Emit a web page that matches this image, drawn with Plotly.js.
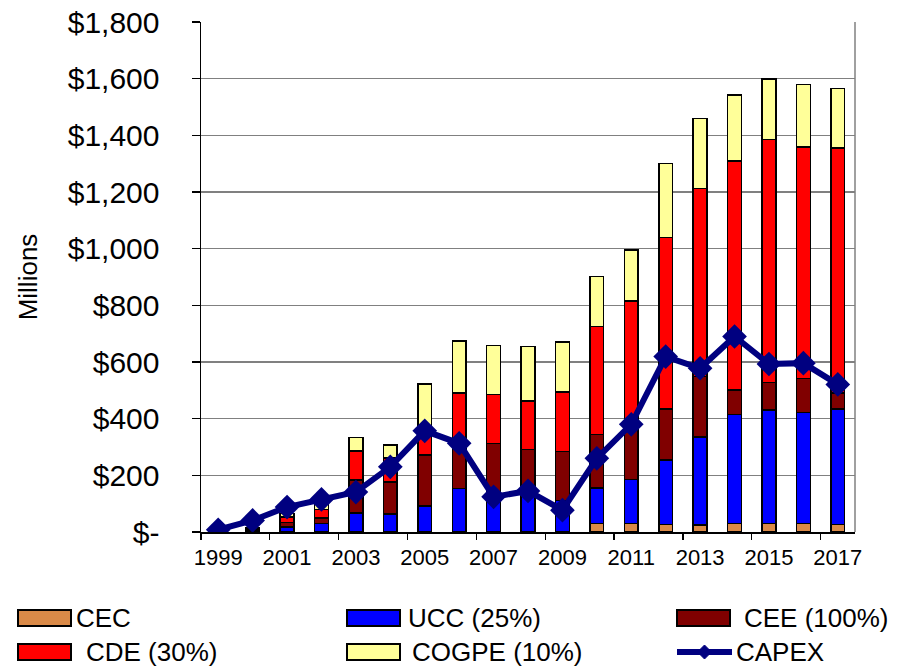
<!DOCTYPE html>
<html>
<head>
<meta charset="utf-8">
<script src="https://cdn.plot.ly/plotly-3.0.1.min.js"></script>
<style>html,body{margin:0;padding:0;background:#fff}#chart{width:899px;height:667px}</style>
</head>
<body>
<div id="chart"></div>
<script>
// ---- data ----
const years = [1999,2000,2001,2002,2003,2004,2005,2006,2007,2008,2009,2010,2011,2012,2013,2014,2015,2016,2017];
const cec   = [0,0,0,0,0,0,0,0,0,0,0,30,30,26,24,30,30,30,27];
const ucc   = [0,5,18,30,67,63,92,154,135,130,112,126,155,228,312,385,400,392,407];
const cee   = [0,4,15,20,116,114,179,149,177,162,173,189,186,180,212,86,98,120,56];
const cde   = [0,4,20,30,103,84,100,187,174,170,210,380,445,606,664,808,857,816,866];
const cogpe = [0,2,12,25,48,46,151,184,173,192,176,177,180,260,247,233,213,221,210];
const capex = [8,41,88,115,141,230,357,313,124,145,77,260,380,619,578,690,593,596,521];

const seriesNames  = ['CEC','UCC (25%)','CEE (100%)','CDE (30%)','COGPE (10%)','CAPEX'];
const seriesColors = ['#DA8A48','#0000FF','#800000','#FF0000','#FFFF99','#000080'];

const xTickVals  = [1999,2001,2003,2005,2007,2009,2011,2013,2015,2017];
const xTickText  = ['1999','2001','2003','2005','2007','2009','2011','2013','2015','2017'];
const xTickMarks = [1998.5,2000.5,2002.5,2004.5,2006.5,2008.5,2010.5,2012.5,2014.5,2016.5];
const yTickVals  = [0,200,400,600,800,1000,1200,1400,1600,1800];
const yTickText  = ['$-','$200','$400','$600','$800','$1,000','$1,200','$1,400','$1,600','$1,800'];

// ---- layout geometry ----
const W = 899, H = 667;
const mL = 201, mR = 44, mT = 22, mB = 135;
const pw = W - mL - mR, ph = H - mT - mB;
const px = x => (x - mL) / pw;
const py = y => (H - mB - y) / ph;
const FONT = 'Liberation Sans, Arial, Helvetica, sans-serif';

const barSeries = [cec, ucc, cee, cde, cogpe];
const traces = barSeries.map((vals, i) => ({
  type: 'bar', x: years, y: vals, name: seriesNames[i],
  marker: {color: seriesColors[i], line: {color: '#000000', width: 1.5}},
  hoverinfo: 'x+y+name'
}));
traces.push({
  type: 'scatter', mode: 'lines+markers', x: years, y: capex, name: seriesNames[5],
  line: {color: seriesColors[5], width: 6},
  marker: {symbol: 'diamond', size: 19, color: seriesColors[5]}
});
// empty trace to carry the boundary tick axis
traces.push({type: 'scatter', x: [], y: [], xaxis: 'x2', yaxis: 'y', showlegend: false, hoverinfo: 'skip'});

// ---- manual legend (Excel style) ----
const legRectX = [18, 347, 677, 18, 347, 677];
const legRowY  = [618, 618, 618, 652, 652, 652];
const legTextX = [74, 406, 742, 84, 410, 734];
const legOrder = [0, 1, 2, 3, 4, 5];
const rectW = 53, rectH = 16;
const shapes = [];
const annotations = [];
legOrder.forEach((si, k) => {
  const x0 = legRectX[k], yc = legRowY[k];
  if (si < 5) {
    shapes.push({type: 'rect', xref: 'paper', yref: 'paper',
      x0: px(x0), x1: px(x0 + rectW), y0: py(yc + rectH / 2), y1: py(yc - rectH / 2),
      fillcolor: seriesColors[si], line: {color: '#000000', width: 2}});
  } else {
    shapes.push({type: 'line', xref: 'paper', yref: 'paper',
      x0: px(x0), x1: px(x0 + rectW + 2), y0: py(yc), y1: py(yc),
      line: {color: seriesColors[si], width: 6}});
    const cx = x0 + (rectW + 2) / 2, d = 7;
    shapes.push({type: 'path', xref: 'paper', yref: 'paper',
      path: `M ${px(cx - d)} ${py(yc)} L ${px(cx)} ${py(yc - d)} L ${px(cx + d)} ${py(yc)} L ${px(cx)} ${py(yc + d)} Z`,
      fillcolor: seriesColors[si], line: {color: seriesColors[si], width: 1}});
  }
  annotations.push({xref: 'paper', yref: 'paper', x: px(legTextX[k]), y: py(yc),
    xanchor: 'left', yanchor: 'middle', showarrow: false, text: seriesNames[si],
    font: {family: FONT, size: 26, color: '#000000'}});
});
// right-hand plot border
shapes.push({type: 'line', xref: 'paper', yref: 'paper', x0: 1, x1: 1, y0: 0, y1: 1,
  line: {color: '#808080', width: 1.5}});

const layout = {
  width: W, height: H,
  margin: {l: mL, r: mR, t: mT, b: mB, pad: 0},
  paper_bgcolor: '#ffffff', plot_bgcolor: '#ffffff',
  font: {family: FONT, color: '#000000'},
  barmode: 'stack', bargap: 0.6,
  showlegend: false,
  xaxis: {
    type: 'linear', range: [1998.5, 2017.5],
    tickmode: 'array', tickvals: xTickVals, ticktext: xTickText,
    ticks: '', showgrid: false, zeroline: false,
    showline: true, linecolor: '#000000', linewidth: 1.5,
    tickfont: {size: 22, family: FONT, color: '#000000'},
    ticklabelstandoff: 5
  },
  xaxis2: {
    type: 'linear', range: [1998.5, 2017.5], overlaying: 'x', anchor: 'y', side: 'bottom',
    tickmode: 'array', tickvals: xTickMarks, ticks: 'outside', ticklen: 7, tickwidth: 1.3,
    tickcolor: '#000000', showticklabels: false, showgrid: false, zeroline: false, showline: false
  },
  yaxis: {
    range: [0, 1800], tickmode: 'array', tickvals: yTickVals, ticktext: yTickText,
    ticks: 'outside', ticklen: 8, tickwidth: 1.3, tickcolor: '#000000',
    showline: true, linecolor: '#000000', linewidth: 1.5,
    showgrid: true, gridcolor: '#808080', gridwidth: 1.2, zeroline: false,
    tickfont: {size: 30, family: FONT, color: '#000000'},
    ticklabelstandoff: 26,
    title: {text: 'Millions', font: {size: 26, family: FONT, color: '#000000'}, standoff: 22}
  },
  shapes: shapes,
  annotations: annotations
};

Plotly.newPlot('chart', traces, layout, {displayModeBar: false, staticPlot: true});
</script>
</body>
</html>
